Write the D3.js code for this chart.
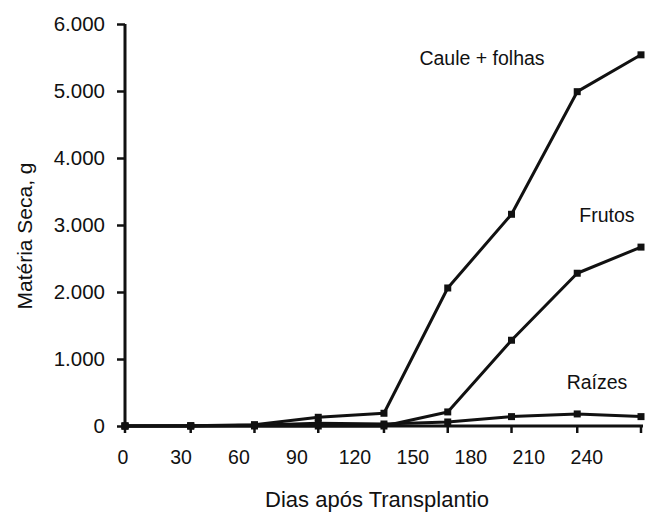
<!DOCTYPE html>
<html>
<head>
<meta charset="utf-8">
<script src="https://cdn.jsdelivr.net/npm/d3@7"></script>
<style>
  html, body { margin: 0; padding: 0; background: #fff; }
  svg { display: block; font-family: "Liberation Sans", Arial, sans-serif; }
</style>
</head>
<body>
<svg id="chart" width="647" height="514"></svg>
<script>
// Sampling days after transplanting
const days = [0, 34, 67, 100, 134, 167, 200, 234, 267];
// Dry matter (g) per plant part
const caule = [0, 5, 20, 130, 190, 2060, 3160, 4990, 5540];
const frutos = [0, 0, 0, 0, 0, 210, 1280, 2280, 2670];
const raizes = [0, 0, 10, 40, 30, 60, 140, 180, 140];
const seriesNames = ["Caule + folhas", "Frutos", "Raízes"];
const xTickLabels = [0, 30, 60, 90, 120, 150, 180, 210, 240];
const yTicks = [0, 1000, 2000, 3000, 4000, 5000, 6000];

const svg = d3.select("#chart");
const x = d3.scaleLinear().domain([0, 267]).range([125, 641]);
const y = d3.scaleLinear().domain([0, 6000]).range([426, 24]);

const fmt = v => v === 0 ? "0" : d3.format(",")(v).replace(/,/g, ".");

// y axis
const yAxis = svg.append("g").attr("transform", `translate(${x(0)},0)`)
  .call(d3.axisLeft(y).tickValues(yTicks).tickSize(8).tickPadding(12).tickFormat(fmt));
yAxis.select(".domain").attr("d", `M0,${y(6000)}V${y(0)}`).attr("stroke", "#111").attr("stroke-width", 3);
yAxis.selectAll(".tick line").attr("stroke", "#111").attr("stroke-width", 2.5);
yAxis.selectAll(".tick text").attr("font-size", 20.5).attr("fill", "#111");

// x axis: tick marks at sampling days, labels every 30 days
const xAxis = svg.append("g").attr("transform", `translate(0,${y(0)})`);
xAxis.append("line").attr("x1", x(0)).attr("x2", x(267) + 2)
  .attr("stroke", "#111").attr("stroke-width", 3);
xAxis.selectAll("line.tk").data(days).join("line").attr("class", "tk")
  .attr("x1", d => x(d)).attr("x2", d => x(d)).attr("y1", 0).attr("y2", 7)
  .attr("stroke", "#111").attr("stroke-width", 2.5);
xAxis.selectAll("text").data(xTickLabels).join("text")
  .attr("x", d => x(d) - 2).attr("y", 38)
  .attr("text-anchor", "middle").attr("font-size", 19.5).attr("fill", "#111")
  .text(d => d);

// axis titles
svg.append("text").attr("x", 377).attr("y", 507).attr("text-anchor", "middle")
  .attr("font-size", 22).attr("fill", "#111").text("Dias após Transplantio");
svg.append("text").attr("transform", "translate(32,236) rotate(-90)")
  .attr("text-anchor", "middle").attr("font-size", 21).attr("fill", "#111")
  .text("Matéria Seca, g");

// series lines and markers
const line = d3.line().x((d, i) => x(days[i])).y(d => y(d));
[raizes, frutos, caule].forEach(vals => {
  svg.append("path").datum(vals).attr("d", line)
    .attr("fill", "none").attr("stroke", "#111").attr("stroke-width", 3)
    .attr("stroke-linejoin", "round");
  svg.selectAll(null).data(vals).join("rect")
    .attr("x", (d, i) => x(days[i]) - 3.5).attr("y", d => y(d) - 3.5)
    .attr("width", 7).attr("height", 7).attr("fill", "#111");
});

// series labels
const labelPos = [[482, 65], [607, 222], [597, 389]];
seriesNames.forEach((n, i) => {
  svg.append("text").attr("x", labelPos[i][0]).attr("y", labelPos[i][1])
    .attr("text-anchor", "middle").attr("font-size", 19.5).attr("fill", "#111").text(n);
});
</script>
</body>
</html>
